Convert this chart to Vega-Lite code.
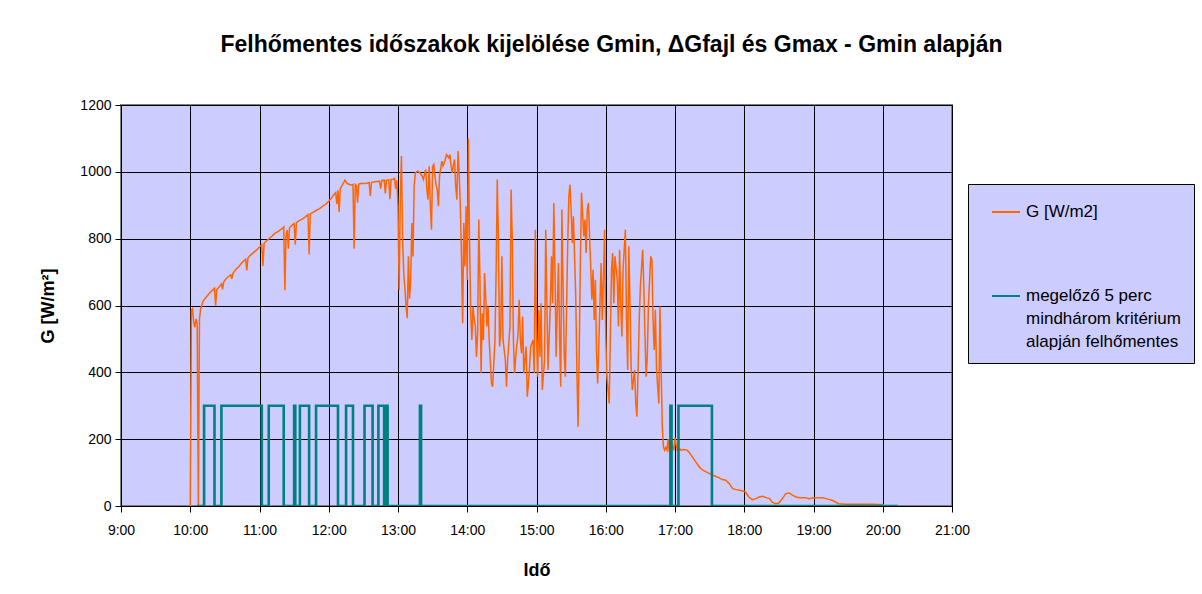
{
  "$schema": "https://vega.github.io/schema/vega-lite/v6.json",
  "width": 831,
  "height": 401,
  "autosize": {"type": "none"},
  "padding": {"left": 121, "top": 105, "right": 250, "bottom": 88},
  "background": "white",
  "title": {
    "text": "Felhőmentes időszakok kijelölése Gmin, ΔGfajl és Gmax - Gmin alapján",
    "font": "Liberation Sans",
    "fontSize": 23,
    "fontWeight": "bold",
    "color": "#000000",
    "anchor": "middle",
    "frame": "group",
    "dx": 75,
    "offset": 41
  },
  "datasets": {
    "g": [
      {"t":"10:00","v":0},{"t":"10:01","v":585},{"t":"10:02","v":590},{"t":"10:03","v":550},{"t":"10:04","v":535},{"t":"10:05","v":560},{"t":"10:06","v":545},{"t":"10:07","v":0},{"t":"10:08","v":560},{"t":"10:09","v":590},
      {"t":"10:10","v":600},{"t":"10:11","v":612},{"t":"10:13","v":622},{"t":"10:15","v":630},{"t":"10:17","v":638},{"t":"10:19","v":645},{"t":"10:21","v":652},{"t":"10:22","v":600},{"t":"10:23","v":648},{"t":"10:25","v":655},
      {"t":"10:27","v":665},{"t":"10:28","v":648},{"t":"10:29","v":670},{"t":"10:31","v":680},{"t":"10:33","v":686},{"t":"10:35","v":692},{"t":"10:36","v":680},{"t":"10:37","v":696},{"t":"10:40","v":710},{"t":"10:42","v":716},
      {"t":"10:44","v":725},{"t":"10:46","v":732},{"t":"10:48","v":738},{"t":"10:49","v":705},{"t":"10:50","v":742},{"t":"10:52","v":750},{"t":"10:54","v":756},{"t":"10:56","v":762},{"t":"10:58","v":768},{"t":"11:00","v":775},
      {"t":"11:02","v":782},{"t":"11:03","v":718},{"t":"11:04","v":786},{"t":"11:06","v":793},{"t":"11:09","v":802},{"t":"11:11","v":808},{"t":"11:13","v":815},{"t":"11:16","v":821},{"t":"11:18","v":826},{"t":"11:20","v":831},
      {"t":"11:21","v":835},{"t":"11:22","v":646},{"t":"11:23","v":810},{"t":"11:24","v":826},{"t":"11:25","v":770},{"t":"11:26","v":832},{"t":"11:28","v":840},{"t":"11:30","v":845},{"t":"11:31","v":783},{"t":"11:32","v":848},
      {"t":"11:34","v":853},{"t":"11:36","v":857},{"t":"11:38","v":861},{"t":"11:40","v":866},{"t":"11:42","v":872},{"t":"11:43","v":753},{"t":"11:44","v":874},{"t":"11:46","v":878},{"t":"11:48","v":882},{"t":"11:50","v":886},
      {"t":"11:52","v":890},{"t":"11:54","v":895},{"t":"11:56","v":900},{"t":"11:58","v":905},{"t":"12:00","v":912},{"t":"12:02","v":920},{"t":"12:04","v":930},{"t":"12:06","v":938},{"t":"12:07","v":903},{"t":"12:08","v":945},
      {"t":"12:09","v":880},{"t":"12:10","v":950},{"t":"12:12","v":962},{"t":"12:14","v":975},{"t":"12:16","v":965},{"t":"12:18","v":962},{"t":"12:20","v":960},{"t":"12:21","v":962},{"t":"12:22","v":770},{"t":"12:23","v":962},
      {"t":"12:24","v":958},{"t":"12:25","v":908},{"t":"12:26","v":963},{"t":"12:28","v":965},{"t":"12:31","v":965},{"t":"12:33","v":966},{"t":"12:35","v":968},{"t":"12:36","v":928},{"t":"12:37","v":968},{"t":"12:40","v":970},
      {"t":"12:42","v":971},{"t":"12:44","v":972},{"t":"12:45","v":950},{"t":"12:46","v":974},{"t":"12:48","v":975},{"t":"12:49","v":935},{"t":"12:50","v":975},{"t":"12:52","v":976},{"t":"12:53","v":918},{"t":"12:54","v":977},
      {"t":"12:56","v":978},{"t":"12:57","v":980},{"t":"12:58","v":950},{"t":"12:59","v":975},{"t":"13:00","v":897},{"t":"13:01","v":647},{"t":"13:02","v":917},{"t":"13:03","v":1047},{"t":"13:04","v":797},{"t":"13:05","v":697},
      {"t":"13:06","v":650},{"t":"13:07","v":597},{"t":"13:08","v":562},{"t":"13:09","v":747},{"t":"13:10","v":620},{"t":"13:11","v":677},{"t":"13:12","v":847},{"t":"13:13","v":747},{"t":"13:14","v":957},{"t":"13:15","v":997},
      {"t":"13:17","v":1002},{"t":"13:19","v":997},{"t":"13:21","v":987},{"t":"13:22","v":977},{"t":"13:24","v":1007},{"t":"13:25","v":947},{"t":"13:26","v":917},{"t":"13:27","v":1017},{"t":"13:28","v":900},{"t":"13:29","v":827},
      {"t":"13:30","v":1017},{"t":"13:31","v":1022},{"t":"13:32","v":987},{"t":"13:33","v":960},{"t":"13:34","v":947},{"t":"13:35","v":897},{"t":"13:36","v":987},{"t":"13:38","v":1032},{"t":"13:39","v":1017},{"t":"13:41","v":1037},
      {"t":"13:42","v":1052},{"t":"13:44","v":1042},{"t":"13:45","v":1052},{"t":"13:46","v":1017},{"t":"13:47","v":997},{"t":"13:48","v":1020},{"t":"13:49","v":1037},{"t":"13:50","v":957},{"t":"13:51","v":917},{"t":"13:52","v":1062},
      {"t":"13:53","v":997},{"t":"13:54","v":897},{"t":"13:55","v":747},{"t":"13:56","v":547},{"t":"13:57","v":847},{"t":"13:58","v":717},{"t":"13:59","v":897},{"t":"14:00","v":677},{"t":"14:01","v":1100},{"t":"14:02","v":797},
      {"t":"14:03","v":577},{"t":"14:04","v":497},{"t":"14:05","v":597},{"t":"14:06","v":560},{"t":"14:07","v":537},{"t":"14:08","v":447},{"t":"14:09","v":517},{"t":"14:10","v":857},{"t":"14:11","v":677},{"t":"14:12","v":397},
      {"t":"14:13","v":577},{"t":"14:14","v":497},{"t":"14:15","v":697},{"t":"14:16","v":627},{"t":"14:17","v":537},{"t":"14:18","v":597},{"t":"14:19","v":497},{"t":"14:21","v":367},{"t":"14:22","v":357},{"t":"14:24","v":497},
      {"t":"14:25","v":697},{"t":"14:26","v":977},{"t":"14:27","v":797},{"t":"14:28","v":477},{"t":"14:29","v":517},{"t":"14:30","v":747},{"t":"14:31","v":497},{"t":"14:33","v":437},{"t":"14:34","v":357},{"t":"14:35","v":437},
      {"t":"14:37","v":537},{"t":"14:38","v":947},{"t":"14:39","v":797},{"t":"14:40","v":497},{"t":"14:41","v":397},{"t":"14:42","v":447},{"t":"14:44","v":517},{"t":"14:45","v":617},{"t":"14:46","v":497},{"t":"14:47","v":457},
      {"t":"14:48","v":567},{"t":"14:49","v":397},{"t":"14:51","v":477},{"t":"14:52","v":327},{"t":"14:53","v":367},{"t":"14:54","v":417},{"t":"14:55","v":477},{"t":"14:57","v":497},{"t":"14:58","v":397},{"t":"14:59","v":827},
      {"t":"15:00","v":507},{"t":"15:01","v":387},{"t":"15:02","v":587},{"t":"15:03","v":447},{"t":"15:04","v":607},{"t":"15:05","v":347},{"t":"15:07","v":437},{"t":"15:08","v":827},{"t":"15:09","v":607},{"t":"15:10","v":407},
      {"t":"15:12","v":607},{"t":"15:13","v":747},{"t":"15:14","v":607},{"t":"15:15","v":907},{"t":"15:16","v":707},{"t":"15:17","v":447},{"t":"15:19","v":727},{"t":"15:20","v":507},{"t":"15:21","v":357},{"t":"15:22","v":887},
      {"t":"15:23","v":657},{"t":"15:24","v":457},{"t":"15:25","v":387},{"t":"15:27","v":777},{"t":"15:28","v":927},{"t":"15:29","v":962},{"t":"15:30","v":887},{"t":"15:31","v":787},{"t":"15:32","v":867},{"t":"15:34","v":627},
      {"t":"15:35","v":407},{"t":"15:36","v":237},{"t":"15:37","v":457},{"t":"15:38","v":727},{"t":"15:39","v":937},{"t":"15:41","v":807},{"t":"15:42","v":857},{"t":"15:43","v":757},{"t":"15:44","v":887},{"t":"15:45","v":907},
      {"t":"15:46","v":807},{"t":"15:48","v":617},{"t":"15:49","v":707},{"t":"15:50","v":557},{"t":"15:51","v":677},{"t":"15:52","v":457},{"t":"15:53","v":367},{"t":"15:55","v":607},{"t":"15:56","v":727},{"t":"15:57","v":557},
      {"t":"15:58","v":677},{"t":"15:59","v":827},{"t":"16:00","v":507},{"t":"16:01","v":387},{"t":"16:03","v":307},{"t":"16:04","v":507},{"t":"16:05","v":707},{"t":"16:06","v":757},{"t":"16:07","v":607},{"t":"16:08","v":747},
      {"t":"16:10","v":677},{"t":"16:11","v":537},{"t":"16:12","v":767},{"t":"16:13","v":607},{"t":"16:14","v":507},{"t":"16:15","v":707},{"t":"16:17","v":827},{"t":"16:18","v":557},{"t":"16:19","v":407},{"t":"16:20","v":777},
      {"t":"16:21","v":607},{"t":"16:22","v":417},{"t":"16:23","v":347},{"t":"16:25","v":407},{"t":"16:26","v":307},{"t":"16:27","v":267},{"t":"16:28","v":407},{"t":"16:29","v":557},{"t":"16:30","v":657},{"t":"16:32","v":767},
      {"t":"16:33","v":657},{"t":"16:34","v":507},{"t":"16:35","v":387},{"t":"16:36","v":447},{"t":"16:37","v":607},{"t":"16:39","v":747},{"t":"16:40","v":737},{"t":"16:41","v":557},{"t":"16:42","v":467},{"t":"16:43","v":587},
      {"t":"16:44","v":407},{"t":"16:46","v":307},{"t":"16:47","v":597},{"t":"16:48","v":407},{"t":"16:49","v":237},{"t":"16:50","v":177},{"t":"16:51","v":167},{"t":"16:52","v":175},{"t":"16:53","v":167},{"t":"16:54","v":200},
      {"t":"16:55","v":162},{"t":"16:56","v":197},{"t":"16:58","v":177},{"t":"16:59","v":167},{"t":"17:00","v":205},{"t":"17:01","v":182},{"t":"17:02","v":167},{"t":"17:04","v":172},{"t":"17:05","v":167},{"t":"17:07","v":169},
      {"t":"17:10","v":168},{"t":"17:12","v":162},{"t":"17:15","v":147},{"t":"17:18","v":132},{"t":"17:21","v":117},{"t":"17:24","v":107},{"t":"17:27","v":102},{"t":"17:30","v":97},{"t":"17:33","v":92},{"t":"17:35","v":89},
      {"t":"17:38","v":85},{"t":"17:41","v":79},{"t":"17:44","v":77},{"t":"17:47","v":67},{"t":"17:50","v":52},{"t":"17:53","v":49},{"t":"17:56","v":47},{"t":"17:59","v":45},{"t":"18:01","v":42},{"t":"18:04","v":27},
      {"t":"18:07","v":19},{"t":"18:10","v":22},{"t":"18:13","v":27},{"t":"18:16","v":29},{"t":"18:19","v":25},{"t":"18:22","v":22},{"t":"18:24","v":12},{"t":"18:27","v":7},{"t":"18:30","v":9},{"t":"18:33","v":22},
      {"t":"18:36","v":37},{"t":"18:39","v":39},{"t":"18:42","v":32},{"t":"18:45","v":27},{"t":"18:48","v":25},{"t":"18:50","v":25},{"t":"18:53","v":25},{"t":"18:56","v":22},{"t":"18:59","v":24},{"t":"19:02","v":25},
      {"t":"19:08","v":25},{"t":"19:11","v":22},{"t":"19:14","v":19},{"t":"19:16","v":17},{"t":"19:19","v":12},{"t":"19:22","v":7},{"t":"19:28","v":5},{"t":"19:37","v":5},{"t":"19:51","v":5},{"t":"20:01","v":4}
    ],
    "flag": [
      {"t":"10:06","v":0},{"t":"10:12","v":300},{"t":"10:21","v":0},{"t":"10:27","v":300},{"t":"11:02","v":0},{"t":"11:08","v":300},{"t":"11:21","v":0},{"t":"11:30","v":300},{"t":"11:31","v":0},{"t":"11:35","v":300},
      {"t":"11:43","v":0},{"t":"11:49","v":300},{"t":"12:08","v":0},{"t":"12:15","v":300},{"t":"12:21","v":0},{"t":"12:31","v":300},{"t":"12:38","v":0},{"t":"12:43","v":300},{"t":"12:48","v":0},{"t":"12:50","v":300},
      {"t":"12:51","v":0},{"t":"13:19","v":300},{"t":"13:20","v":0},{"t":"16:56","v":300},{"t":"16:57","v":0},{"t":"17:03","v":300},{"t":"17:32","v":0},{"t":"20:13","v":0}
    ]
  },
  "encoding": {
    "x": {
      "field": "t",
      "type": "temporal",
      "scale": {
        "domain": [
          {"year": 1900, "month": 1, "date": 1, "hours": 9},
          {"year": 1900, "month": 1, "date": 1, "hours": 21}
        ],
        "nice": false
      },
      "axis": {
        "title": "Idő",
        "format": "%-H:%M",
        "values": [
          {"year": 1900, "month": 1, "date": 1, "hours": 9},
          {"year": 1900, "month": 1, "date": 1, "hours": 10},
          {"year": 1900, "month": 1, "date": 1, "hours": 11},
          {"year": 1900, "month": 1, "date": 1, "hours": 12},
          {"year": 1900, "month": 1, "date": 1, "hours": 13},
          {"year": 1900, "month": 1, "date": 1, "hours": 14},
          {"year": 1900, "month": 1, "date": 1, "hours": 15},
          {"year": 1900, "month": 1, "date": 1, "hours": 16},
          {"year": 1900, "month": 1, "date": 1, "hours": 17},
          {"year": 1900, "month": 1, "date": 1, "hours": 18},
          {"year": 1900, "month": 1, "date": 1, "hours": 19},
          {"year": 1900, "month": 1, "date": 1, "hours": 20},
          {"year": 1900, "month": 1, "date": 1, "hours": 21}
        ],
        "labelFlush": false,
        "labelOverlap": false,
        "labelPadding": 11,
        "titlePadding": 24
      }
    },
    "y": {
      "field": "v",
      "type": "quantitative",
      "scale": {"domain": [0, 1200], "nice": false},
      "axis": {
        "title": "G [W/m²]",
        "format": "d",
        "values": [0, 200, 400, 600, 800, 1000, 1200],
        "labelPadding": 4,
        "titlePadding": 22
      }
    }
  },
  "layer": [
    {
      "data": {"name": "g", "format": {"parse": {"t": "date:'%H:%M'"}}},
      "mark": {"type": "line", "interpolate": "linear", "clip": true, "strokeWidth": 1.5},
      "encoding": {
        "color": {
          "datum": "G [W/m2]",
          "type": "nominal",
          "scale": {
            "domain": ["G [W/m2]", "megelőző 5 perc\nmindhárom kritérium\nalapján felhőmentes"],
            "range": ["#FF6600", "#008080"]
          },
          "legend": {
            "title": null,
            "orient": "none",
            "legendX": 847,
            "legendY": 79,
            "fillColor": "#CCCCFF",
            "strokeColor": "#000000",
            "padding": 13,
            "symbolOffset": 10,
            "symbolType": "stroke",
            "symbolSize": 784,
            "symbolStrokeWidth": 2,
            "labelOffset": 5,
            "labelFont": "Liberation Sans",
            "labelFontSize": 17,
            "labelColor": "#000000",
            "labelLimit": 400,
            "rowPadding": 61,
            "encode": {"labels": {"update": {"lineBreak": {"value": "\n"}, "lineHeight": {"value": 23}}}}
          }
        }
      }
    },
    {
      "data": {"name": "flag", "format": {"parse": {"t": "date:'%H:%M'"}}},
      "mark": {"type": "line", "interpolate": "step-after", "clip": true, "strokeWidth": 2.6},
      "encoding": {
        "color": {"datum": "megelőző 5 perc\nmindhárom kritérium\nalapján felhőmentes", "type": "nominal"}
      }
    }
  ],
  "config": {
    "font": "Liberation Sans",
    "view": {"fill": "#CCCCFF", "stroke": "#808080", "strokeWidth": 2},
    "axis": {
      "labelFont": "Liberation Sans",
      "labelFontSize": 14,
      "labelColor": "#000000",
      "titleFont": "Liberation Sans",
      "titleFontSize": 18,
      "titleFontWeight": "bold",
      "titleColor": "#000000",
      "domainColor": "#000000",
      "tickColor": "#000000",
      "tickSize": 6,
      "gridColor": "#000000",
      "gridOpacity": 1,
      "gridWidth": 1
    }
  }
}
